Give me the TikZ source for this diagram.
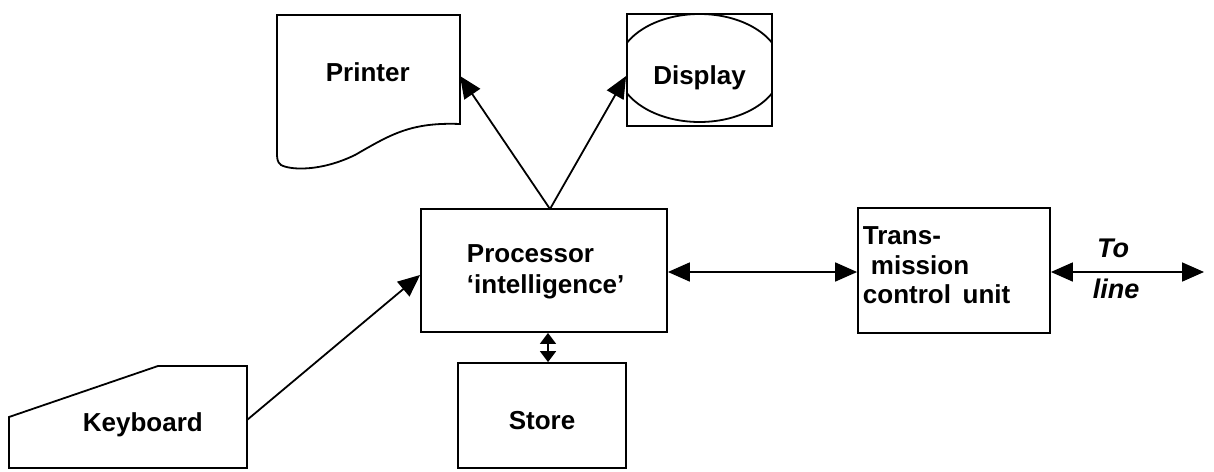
\documentclass[tikz,border=0pt]{standalone}
\usepackage{fontspec}
\setmainfont{Liberation Sans}
\usetikzlibrary{arrows.meta}
\begin{document}
\begin{tikzpicture}[x=1pt,y=-1pt,line width=1.8pt,
  box/.style={draw, rectangle, inner sep=0pt, line width=1.8pt},
  lbl/.style={font=\fontsize{26}{30}\selectfont\bfseries, inner sep=0pt, anchor=base west},
  hand/.style={font=\fontsize{27}{30}\selectfont\bfseries\itshape, inner sep=0pt, anchor=base},
  tip/.tip={Triangle[length=22pt,width=19pt]},
  smalltip/.tip={Triangle[length=11pt,width=16pt]},
  conn/.style={line width=1.8pt, -tip},
  dconn/.style={line width=1.8pt, tip-tip},
  sconn/.style={line width=1.8pt, smalltip-smalltip}]
\useasboundingbox (0,0) rectangle (1214,471);

% Printer (document shape)
\draw (277,15) -- (460,15) -- (460,124)
  .. controls (410,122) and (390,135) .. (355,155)
  .. controls (320,172) and (290,170) .. (281,165)
  .. controls (277,162) and (277,158) .. (277,152) -- cycle;
\coordinate (printerR) at (460,76);
\node[lbl] (printerT) at (325,81) {Printer};

% Display
\node[box, minimum width=145pt, minimum height=112pt] (disp) at (699.5,70) {};
\begin{scope}
  \clip (disp.south west) rectangle (disp.north east);
  \draw (699.5,68) ellipse [x radius=82pt, y radius=54pt];
\end{scope}
\node[lbl, anchor=base] (dispT) at (disp.center |- 0,84) {Display};
\coordinate (dispL) at (disp.west |- 0,76);

% Processor
\node[box, minimum width=246pt, minimum height=123pt] (proc) at (544,270.5) {};
\node[lbl] (procT1) at (466,262) {Processor};
\node[lbl] (procT2) at (466,293) {‘intelligence’};
\coordinate (procTop) at (550,209);

% Store
\node[box, minimum width=168pt, minimum height=105pt] (store) at (542,415.5) {};
\node[lbl, anchor=base] (storeT) at (store.center |- 0,429) {Store};

% Keyboard
\draw (9,468) -- (9,417) -- (158,366) -- (247,366) -- (247,468) -- cycle;
\coordinate (kbR) at (247,420);
\node[lbl] (kbT) at (82,431) {Keyboard};

% Transmission control unit
\node[box, minimum width=192pt, minimum height=125pt] (tcu) at (954,270.5) {};
\node[lbl] (tcuT1) at (862,244) {Trans-};
\node[lbl] (tcuT2) at (870,274) {mission};
\node[lbl] (tcuT3) at (862,303) {control\hspace{0.45em}unit};
\coordinate (lineEnd) at (1204,272);
\node[hand] (toT) at (1113,257) {To};
\node[hand] (lineT) at (1116,298) {line};

% Connectors
\draw[conn] (procTop) -- (printerR);
\draw[conn] (procTop) -- (dispL);
\draw[conn] (kbR) -- (proc.west |- 0,275);
\draw[dconn] (proc.east |- 0,272) -- (tcu.west |- 0,272);
\draw[sconn] (proc.south -| 548,0) -- (store.north -| 548,0);
\draw[dconn] (tcu.east |- 0,272) -- (lineEnd);
\end{tikzpicture}
\end{document}
